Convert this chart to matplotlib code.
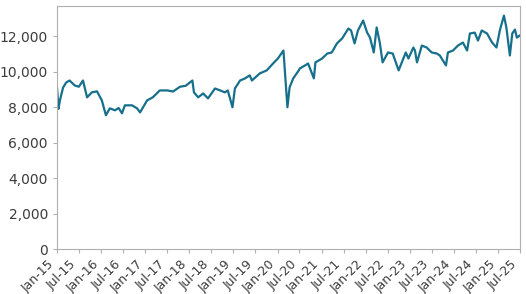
import numpy as np
import pandas as pd
import matplotlib
matplotlib.use("Agg")
import matplotlib.pyplot as plt
import matplotlib.dates as mdates
import matplotlib.ticker as mtick

# values
dates = ["2015-01-01", "2015-01-13", "2015-01-25", "2015-02-20", "2015-03-18", "2015-04-15",
         "2015-05-28", "2015-07-01", "2015-08-04", "2015-09-07", "2015-10-16", "2015-11-28",
         "2016-01-07", "2016-02-10", "2016-03-13", "2016-04-25", "2016-05-25", "2016-06-22",
         "2016-07-16", "2016-09-13", "2016-10-25", "2016-11-19", "2017-01-16", "2017-03-04",
         "2017-05-01", "2017-07-01", "2017-08-19", "2017-10-16", "2017-12-01", "2018-01-26",
         "2018-02-08", "2018-03-15", "2018-04-25", "2018-06-04", "2018-08-01", "2018-09-13",
         "2018-10-22", "2018-11-15", "2018-12-24", "2019-01-13", "2019-02-25", "2019-04-07",
         "2019-05-16", "2019-06-03", "2019-08-07", "2019-10-04", "2019-11-25", "2020-01-04",
         "2020-02-19", "2020-03-23", "2020-04-10", "2020-05-10", "2020-06-25", "2020-07-04",
         "2020-08-16", "2020-09-10", "2020-10-28", "2020-11-10", "2021-01-04", "2021-02-16",
         "2021-03-25", "2021-05-07", "2021-06-19", "2021-08-10", "2021-09-01", "2021-09-30",
         "2021-10-28", "2021-12-10", "2022-01-12", "2022-02-05", "2022-03-08", "2022-04-01",
         "2022-04-28", "2022-05-20", "2022-07-04", "2022-08-12", "2022-09-30", "2022-11-28",
         "2022-12-20", "2023-01-30", "2023-02-12", "2023-03-01", "2023-04-10", "2023-05-20",
         "2023-07-01", "2023-08-12", "2023-09-06", "2023-10-27", "2023-11-12", "2023-12-24",
         "2024-02-03", "2024-03-15", "2024-04-19", "2024-05-12", "2024-06-21", "2024-07-18",
         "2024-08-18", "2024-10-01", "2024-11-12", "2024-12-18", "2025-01-15", "2025-02-18",
         "2025-03-10", "2025-04-08", "2025-04-28", "2025-05-20", "2025-06-05", "2025-07-01"]
values = [9100, 7900, 8380, 9100, 9390, 9500,
          9220, 9150, 9500, 8550, 8830, 8890,
          8380, 7540, 7930, 7820, 7950, 7650,
          8100, 8100, 7930, 7700, 8380, 8550,
          8940, 8940, 8880, 9150, 9200, 9500,
          8830, 8550, 8770, 8490, 9050, 8940,
          8830, 8940, 7990, 9050, 9500, 9620,
          9790, 9500, 9900, 10070, 10460, 10740,
          11190, 7990, 9110, 9620, 10070, 10180,
          10350, 10460, 9620, 10520, 10740, 11020,
          11080, 11590, 11870, 12430, 12320, 11590,
          12320, 12880, 12200, 11920, 11080, 12490,
          11590, 10520, 11080, 11020, 10070, 11080,
          10740, 11360, 11190, 10520, 11470, 11360,
          11080, 11020, 10910, 10350, 11080, 11190,
          11470, 11640, 11190, 12150, 12200, 11750,
          12320, 12150, 11640, 11360, 12320, 13160,
          12490, 10910, 12150, 12370, 11920, 12040]
y_ticks = [0, 2000, 4000, 6000, 8000, 10000, 12000]

df = pd.DataFrame({"date": pd.to_datetime(dates), "value": values})

fig = plt.figure(figsize=(5.26, 2.94), dpi=100)
ax = fig.add_axes([0.1084, 0.153, 0.8802, 0.8266])

ax.plot(df["date"], df["value"], color="#16708c", linewidth=1.6)

ax.set_xlim(pd.Timestamp("2015-01-01"), pd.Timestamp("2025-07-01"))
ax.set_ylim(0, 13700)
ax.set_yticks(y_ticks)
ax.yaxis.set_major_formatter(mtick.StrMethodFormatter("{x:,.0f}"))
ax.xaxis.set_major_locator(mdates.MonthLocator(bymonth=[1, 7]))
ax.xaxis.set_major_formatter(mdates.DateFormatter("%b-%y"))

for s in ax.spines.values():
    s.set_color("#b0b0b0")
ax.tick_params(axis="both", colors="#b0b0b0", labelcolor="#3c3c3c", length=3)
ax.tick_params(axis="y", labelsize=10)
ax.tick_params(axis="x", labelsize=9)
plt.setp(ax.get_xticklabels(), rotation=45, ha="right")

fig.savefig("out.png", dpi=100)
